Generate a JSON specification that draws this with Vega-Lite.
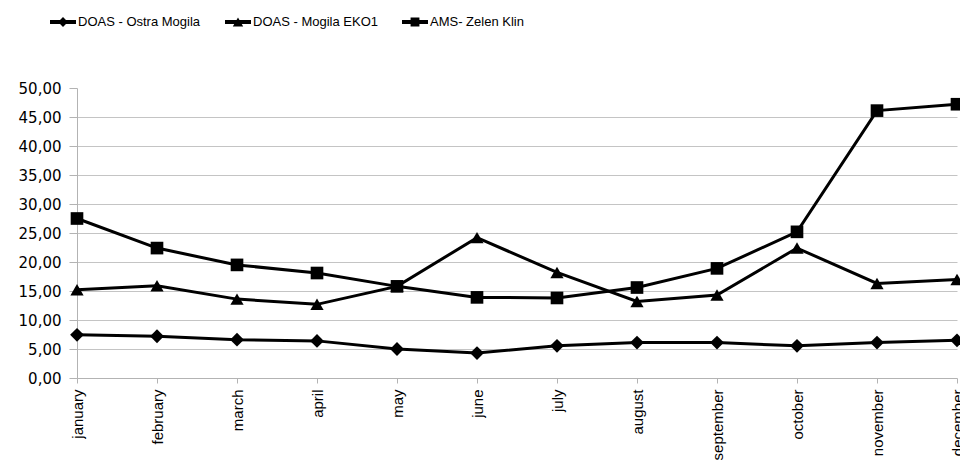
{
  "$schema": "https://vega.github.io/schema/vega-lite/v6.json",
  "autosize": "none",
  "width": 880,
  "height": 290,
  "padding": {"left": 77, "top": 88, "right": 3, "bottom": 88},
  "background": "white",
  "data": {
    "values": [
      {"month": "january", "series": "DOAS - Ostra Mogila", "value": 7.45},
      {"month": "february", "series": "DOAS - Ostra Mogila", "value": 7.2},
      {"month": "march", "series": "DOAS - Ostra Mogila", "value": 6.6},
      {"month": "april", "series": "DOAS - Ostra Mogila", "value": 6.4},
      {"month": "may", "series": "DOAS - Ostra Mogila", "value": 5.0},
      {"month": "june", "series": "DOAS - Ostra Mogila", "value": 4.3},
      {"month": "july", "series": "DOAS - Ostra Mogila", "value": 5.55},
      {"month": "august", "series": "DOAS - Ostra Mogila", "value": 6.1},
      {"month": "september", "series": "DOAS - Ostra Mogila", "value": 6.1},
      {"month": "october", "series": "DOAS - Ostra Mogila", "value": 5.55},
      {"month": "november", "series": "DOAS - Ostra Mogila", "value": 6.1},
      {"month": "december", "series": "DOAS - Ostra Mogila", "value": 6.5},
      {"month": "january", "series": "DOAS - Mogila EKO1", "value": 15.2},
      {"month": "february", "series": "DOAS - Mogila EKO1", "value": 15.9},
      {"month": "march", "series": "DOAS - Mogila EKO1", "value": 13.6},
      {"month": "april", "series": "DOAS - Mogila EKO1", "value": 12.7},
      {"month": "may", "series": "DOAS - Mogila EKO1", "value": 15.8},
      {"month": "june", "series": "DOAS - Mogila EKO1", "value": 24.2},
      {"month": "july", "series": "DOAS - Mogila EKO1", "value": 18.2},
      {"month": "august", "series": "DOAS - Mogila EKO1", "value": 13.2},
      {"month": "september", "series": "DOAS - Mogila EKO1", "value": 14.3},
      {"month": "october", "series": "DOAS - Mogila EKO1", "value": 22.4},
      {"month": "november", "series": "DOAS - Mogila EKO1", "value": 16.3},
      {"month": "december", "series": "DOAS - Mogila EKO1", "value": 17.0},
      {"month": "january", "series": "AMS- Zelen Klin", "value": 27.5},
      {"month": "february", "series": "AMS- Zelen Klin", "value": 22.4},
      {"month": "march", "series": "AMS- Zelen Klin", "value": 19.5},
      {"month": "april", "series": "AMS- Zelen Klin", "value": 18.1},
      {"month": "may", "series": "AMS- Zelen Klin", "value": 15.8},
      {"month": "june", "series": "AMS- Zelen Klin", "value": 13.9},
      {"month": "july", "series": "AMS- Zelen Klin", "value": 13.8},
      {"month": "august", "series": "AMS- Zelen Klin", "value": 15.6},
      {"month": "september", "series": "AMS- Zelen Klin", "value": 18.9},
      {"month": "october", "series": "AMS- Zelen Klin", "value": 25.2},
      {"month": "november", "series": "AMS- Zelen Klin", "value": 46.1},
      {"month": "december", "series": "AMS- Zelen Klin", "value": 47.2}
    ]
  },
  "encoding": {
    "x": {
      "field": "month",
      "type": "ordinal",
      "sort": ["january", "february", "march", "april", "may", "june", "july", "august", "september", "october", "november", "december"],
      "scale": {"type": "point", "padding": 0},
      "axis": {
        "title": null,
        "labelAngle": -90,
        "labelFont": "Liberation Sans",
        "labelFontSize": 15,
        "labelColor": "#000000",
        "labelPadding": 6,
        "tickSize": 5,
        "tickColor": "#b3b3b3",
        "domainColor": "#b3b3b3",
        "grid": false,
        "labelOverlap": false
      }
    },
    "y": {
      "field": "value",
      "type": "quantitative",
      "scale": {"domain": [0, 50], "nice": false, "zero": true},
      "axis": {
        "title": null,
        "values": [0, 5, 10, 15, 20, 25, 30, 35, 40, 45, 50],
        "labelExpr": "replace(format(datum.value, '.2f'), '.', ',')",
        "labelFont": "DejaVu Sans",
        "labelFontSize": 15,
        "labelColor": "#000000",
        "labelPadding": 8,
        "tickSize": 8,
        "tickColor": "#b3b3b3",
        "domainColor": "#b3b3b3",
        "grid": true,
        "gridColor": {"condition": {"test": "datum.value == 50 || datum.value == 0", "value": "transparent"}, "value": "#c4c4c4"},
        "gridWidth": 1
      }
    }
  },
  "layer": [
    {
      "mark": {"type": "line", "color": "#000000", "strokeWidth": 3},
      "encoding": {"detail": {"field": "series"}}
    },
    {
      "mark": {"type": "point", "filled": true, "color": "#000000", "opacity": 1},
      "encoding": {
        "shape": {
          "field": "series",
          "type": "nominal",
          "scale": {"domain": ["DOAS - Ostra Mogila", "DOAS - Mogila EKO1", "AMS- Zelen Klin"], "range": ["diamond", "triangle-up", "square"]},
          "legend": null
        },
        "size": {
          "field": "series",
          "type": "nominal",
          "scale": {"domain": ["DOAS - Ostra Mogila", "DOAS - Mogila EKO1", "AMS- Zelen Klin"], "range": [190, 160, 200]},
          "legend": null
        }
      }
    },
    {
      "mark": {"type": "point", "filled": true, "color": "#000000", "opacity": 0},
      "encoding": {
        "shape": {
          "field": "series",
          "type": "nominal",
          "scale": {
            "domain": ["DOAS - Ostra Mogila", "DOAS - Mogila EKO1", "AMS- Zelen Klin"],
            "range": [
              "M-1,-0.15H1V0.15H-1Z M-0.38,0L0,-0.38L0.38,0L0,0.38Z",
              "M-1,-0.15H1V0.15H-1Z M-0.4,0.34L0,-0.34L0.4,0.34Z",
              "M-1,-0.15H1V0.15H-1Z M-0.34,-0.34H0.34V0.34H-0.34Z"
            ]
          },
          "legend": {
            "title": null,
            "orient": "none",
            "direction": "horizontal",
            "legendX": -27,
            "legendY": -79,
            "padding": 0,
            "symbolSize": 676,
            "symbolStrokeWidth": 0,
            "labelFont": "Liberation Sans",
            "labelFontSize": 13,
            "labelColor": "#000000",
            "labelOffset": 2,
            "columnPadding": 24,
            "encode": {
              "symbols": {
                "update": {
                  "opacity": {"value": 1},
                  "fill": {"value": "#000000"},
                  "fillOpacity": {"value": 1},
                  "strokeWidth": {"value": 0}
                }
              }
            }
          }
        }
      }
    }
  ],
  "resolve": {"scale": {"shape": "independent"}},
  "config": {
    "view": {"stroke": null},
    "axis": {"domainWidth": 1, "tickWidth": 1}
  }
}
